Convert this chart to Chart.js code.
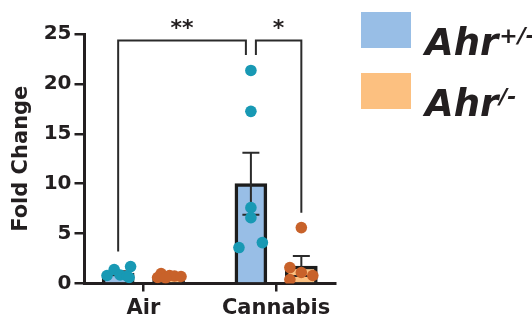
<!DOCTYPE html>
<html>
<head>
<meta charset="utf-8">
<script src="https://cdn.jsdelivr.net/npm/chart.js@4.4.1/dist/chart.umd.min.js"></script>
<style>
  html, body { margin: 0; padding: 0; background: #fff; }
  #wrap { width: 532px; height: 322px; }
</style>
</head>
<body>
<div id="wrap"><canvas id="c" width="532" height="322"></canvas></div>
<script>
// Exposure groups on the x axis
const categories = ['Air', 'Cannabis'];
// Genotypes (legend)
const genotypes = ['Ahr', 'Ahr'];
const genotypeSup = ['+/-', '/-'];

// Group means and SEM, per exposure group
const hetMean = [1.05, 10.0];
const hetSem = [0.17, 3.1];
const koMean = [0.75, 1.75];
const koSem = [0.06, 1.0];

// Individual animals
const hetAir = [0.8, 1.4, 0.85, 0.75, 1.7, 0.6];
const hetCannabis = [21.35, 17.25, 7.6, 6.6, 3.6, 4.1];
const koAir = [1.0, 0.6, 0.8, 0.75, 0.7, 0.55];
const koCannabis = [5.6, 1.6, 1.1, 0.8, 0.4];

// Y axis ticks
const yTicks = [0, 5, 10, 15, 20, 25];

// Significance annotations
const sigLabels = ['**', '*'];

// ---- layout helpers ----
const GROUP_OFFSET = 0.19;     // bar centre offset from category centre (x units)
const HALF_BAR = 0.12;         // half bar width in x units, used to spread dots
// horizontal spread of dots within a bar, as a fraction of half bar width
const spread = {
  hetAir: [-0.7, -0.25, 0.12, 0.56, 0.78, 0.69],
  koAir: [-0.47, -0.69, 0.06, 0.37, 0.78, -0.19],
  hetCannabis: [0, 0, 0, 0, -0.75, 0.72],
  koCannabis: [0, -0.72, 0, 0.72, -0.72]
};

const BLUE = '#98BEE6';
const ORANGE = '#FCC080';
const TEAL = '#1899B4';
const RUST = '#C8622A';
const INK = '#231F20';
const FAMILY = '"DejaVu Sans", Verdana, sans-serif';

function dots(values, cat, side, sp) {
  return values.map((v, i) => ({ x: cat + side * GROUP_OFFSET + sp[i] * HALF_BAR, y: v }));
}
function bars(means, side) {
  return means.map((m, i) => ({ x: i + side * GROUP_OFFSET, y: m }));
}

// Error bars: drawn right after the bars, beneath the dots
const errorBars = {
  id: 'errorBars',
  afterDatasetDraw(chart, args) {
    if (args.index !== 0) return;
    const { ctx, scales: { x, y } } = chart;
    const sets = [[hetMean, hetSem, -1], [koMean, koSem, 1]];
    ctx.save();
    ctx.strokeStyle = '#2b2b2b';
    ctx.lineWidth = 2;
    sets.forEach(([means, sems, side]) => {
      means.forEach((m, i) => {
        const cx = x.getPixelForValue(i + side * GROUP_OFFSET);
        const top = y.getPixelForValue(m + sems[i]);
        const bot = y.getPixelForValue(m - sems[i]);
        const cap = 8.5;
        ctx.beginPath();
        ctx.moveTo(cx, top); ctx.lineTo(cx, bot);
        ctx.moveTo(cx - cap, top); ctx.lineTo(cx + cap, top);
        ctx.moveTo(cx - cap, bot); ctx.lineTo(cx + cap, bot);
        ctx.stroke();
      });
    });
    ctx.restore();
  }
};

// Significance brackets
const brackets = {
  id: 'brackets',
  afterDraw(chart) {
    const { ctx, scales: { x, y } } = chart;
    const level = y.getPixelForValue(24.35);
    const gap = 5;
    const hetC = x.getPixelForValue(1 - GROUP_OFFSET);
    const a1 = x.getPixelForValue(0 - GROUP_OFFSET);
    const a2 = hetC - gap;
    const b1 = hetC + gap;
    const b2 = x.getPixelForValue(1 + GROUP_OFFSET);
    ctx.save();
    ctx.strokeStyle = '#2b2b2b';
    ctx.lineWidth = 2;
    ctx.beginPath();
    ctx.moveTo(a1, y.getPixelForValue(3.2)); ctx.lineTo(a1, level);
    ctx.lineTo(a2, level); ctx.lineTo(a2, y.getPixelForValue(22.9));
    ctx.moveTo(b1, y.getPixelForValue(22.9)); ctx.lineTo(b1, level);
    ctx.lineTo(b2, level); ctx.lineTo(b2, y.getPixelForValue(7.1));
    ctx.stroke();
    ctx.fillStyle = INK;
    ctx.font = 'bold 22px ' + FAMILY;
    ctx.textAlign = 'center';
    ctx.textBaseline = 'alphabetic';
    ctx.fillText(sigLabels[0], (a1 + a2) / 2, level - 5);
    ctx.fillText(sigLabels[1], (b1 + b2) / 2, level - 5);
    ctx.restore();
  }
};

// Legend with superscript genotype labels
const genotypeLegend = {
  id: 'genotypeLegend',
  afterDraw(chart) {
    const { ctx } = chart;
    const fills = [BLUE, ORANGE];
    const rows = [12, 73];
    ctx.save();
    rows.forEach((top, i) => {
      ctx.fillStyle = fills[i];
      ctx.fillRect(361, top, 50, 36);
      ctx.fillStyle = INK;
      ctx.textAlign = 'left';
      ctx.textBaseline = 'alphabetic';
      ctx.font = 'italic bold 37px ' + FAMILY;
      const base = top + 43;
      ctx.fillText(genotypes[i], 425, base);
      const w = ctx.measureText(genotypes[i]).width;
      ctx.font = 'italic bold 22px ' + FAMILY;
      ctx.fillText(genotypeSup[i], 425 + w + 1, base - 12);
    });
    ctx.restore();
  }
};

const tickFont = { family: FAMILY, weight: 'bold', size: 20 };

new Chart(document.getElementById('c'), {
  type: 'bar',
  data: {
    datasets: [
      { type: 'bar', label: 'Ahr+/-', data: bars(hetMean, -1), backgroundColor: BLUE,
        borderColor: '#1c1c1c', borderWidth: 3.5, barThickness: 32, grouped: false, order: 3 },
      { type: 'bar', label: 'Ahr-/-', data: bars(koMean, 1), backgroundColor: ORANGE,
        borderColor: '#1c1c1c', borderWidth: 3.5, barThickness: 32, grouped: false, order: 3 },
      { type: 'scatter', data: dots(hetAir, 0, -1, spread.hetAir).concat(dots(hetCannabis, 1, -1, spread.hetCannabis)),
        backgroundColor: TEAL, borderWidth: 0, pointRadius: 5.8, order: 1 },
      { type: 'scatter', data: dots(koAir, 0, 1, spread.koAir).concat(dots(koCannabis, 1, 1, spread.koCannabis)),
        backgroundColor: RUST, borderWidth: 0, pointRadius: 5.8, order: 1 }
    ]
  },
  options: {
    responsive: false,
    animation: false,
    layout: { padding: { top: 34, right: 197, left: 0, bottom: 0 } },
    plugins: { legend: { display: false }, tooltip: { enabled: false } },
    scales: {
      x: {
        type: 'linear',
        offset: false,
        min: -0.4436,
        max: 1.4436,
        afterBuildTicks: s => { s.ticks = categories.map((c, i) => ({ value: i })); },
        afterFit: s => { s.height = 38.5; },
        ticks: { color: INK, font: { ...tickFont, size: 21 }, padding: 4, autoSkip: false, maxRotation: 0,
          callback: v => categories[v] },
        grid: { display: true, offset: false, drawOnChartArea: false, drawTicks: true, tickLength: 8, color: INK, lineWidth: 2.5 },
        border: { display: true, color: INK, width: 3 }
      },
      y: {
        min: 0,
        max: 25,
        afterBuildTicks: s => { s.ticks = yTicks.map(v => ({ value: v })); },
        afterFit: s => { s.width = 84.5; },
        ticks: { color: INK, font: tickFont, padding: 3 },
        grid: { display: true, drawOnChartArea: false, drawTicks: true, tickLength: 10, color: INK, lineWidth: 2.5 },
        border: { display: true, color: INK, width: 3 },
        title: { display: true, text: 'Fold Change', color: INK, padding: { top: 9, bottom: 0 },
          font: { family: FAMILY, weight: 'bold', size: 21 } }
      }
    }
  },
  plugins: [errorBars, brackets, genotypeLegend]
});
</script>
</body>
</html>
